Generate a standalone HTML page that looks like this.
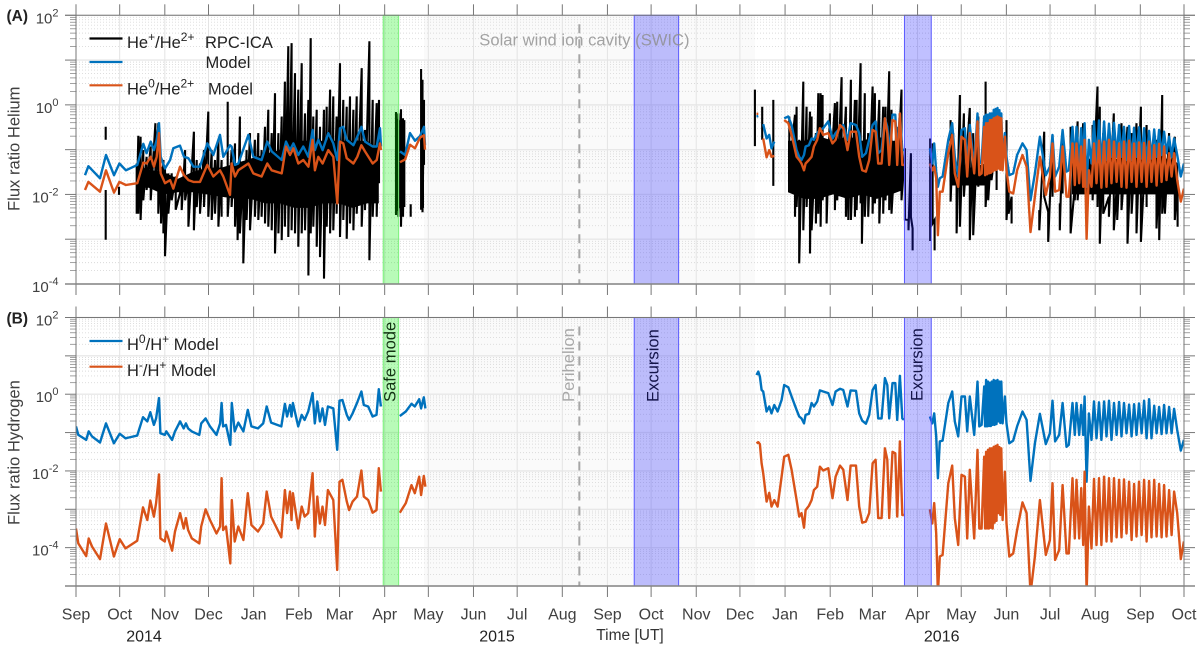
<!DOCTYPE html>
<html lang="en">
<head>
<meta charset="utf-8">
<title>Flux ratios of helium and hydrogen</title>
<style>
html,body{margin:0;padding:0;background:#fff;}
svg{display:block;font-family:"Liberation Sans",sans-serif;}
</style>
</head>
<body>
<svg id="chart" xmlns="http://www.w3.org/2000/svg" width="1200" height="646" viewBox="0 0 1200 646">
  <defs>
    <clipPath id="clipA"><rect x="76" y="15.3" width="1108" height="268.7"/></clipPath>
    <clipPath id="clipB"><rect x="76" y="317.5" width="1108" height="268.5"/></clipPath>
  </defs>
  <g id="layer-grid"></g>
  <g id="layer-series"></g>
  <g id="layer-bands"></g>
  <g id="layer-axes"></g>

  <text x="6.5" y="21" font-size="15.5" font-weight="bold" fill="#222">(A)</text>
  <text x="6.5" y="323.5" font-size="15.5" font-weight="bold" fill="#222">(B)</text>
  <text transform="translate(19.5,211) rotate(-90)" font-size="16.6" fill="#404040">Flux ratio Helium</text>
  <text transform="translate(19.5,525) rotate(-90)" font-size="16.6" fill="#404040">Flux ratio Hydrogen</text>

  <text x="479.3" y="45.5" font-size="16.6" fill="#8c8c8c" fill-opacity="0.8">Solar wind ion cavity (SWIC)</text>
  <text transform="translate(574,402) rotate(-90)" font-size="16.6" fill="#a8a8a8">Perihelion</text>
  <text transform="translate(395.7,402) rotate(-90)" font-size="16.6" fill="#123312">Safe mode</text>
  <text transform="translate(658.5,402) rotate(-90)" font-size="16.6" fill="#14144a">Excursion</text>
  <text transform="translate(922.7,401) rotate(-90)" font-size="16.6" fill="#14144a">Excursion</text>

  <g>
    <line x1="89.5" y1="38.5" x2="122.5" y2="38.5" stroke="#000" stroke-width="2.2"/>
    <line x1="89.5" y1="62" x2="122.5" y2="62" stroke="#0072BD" stroke-width="2.2"/>
    <line x1="89.5" y1="85.3" x2="122.5" y2="85.3" stroke="#D95319" stroke-width="2.2"/>
    <text x="127" y="48" font-size="16.5" fill="#222">He<tspan font-size="12" dy="-7">+</tspan><tspan dy="7">/He</tspan><tspan font-size="12" dy="-7">2+</tspan></text>
    <text x="205" y="48" font-size="16.5" fill="#222">RPC-ICA</text>
    <text x="205.5" y="68" font-size="16.5" fill="#222">Model</text>
    <text x="127" y="94.5" font-size="16.5" fill="#222">He<tspan font-size="12" dy="-7">0</tspan><tspan dy="7">/He</tspan><tspan font-size="12" dy="-7">2+</tspan></text>
    <text x="208" y="94.5" font-size="16.5" fill="#222">Model</text>
  </g>
  <g>
    <line x1="89.5" y1="341" x2="122.5" y2="341" stroke="#0072BD" stroke-width="2.2"/>
    <line x1="89.5" y1="366.7" x2="122.5" y2="366.7" stroke="#D95319" stroke-width="2.2"/>
    <text x="127" y="350" font-size="16.5" fill="#222">H<tspan font-size="12" dy="-7">0</tspan><tspan dy="7">/H</tspan><tspan font-size="12" dy="-7">+</tspan><tspan dy="7"> Model</tspan></text>
    <text x="127" y="376" font-size="16.5" fill="#222">H<tspan font-size="12" dy="-7">-</tspan><tspan dy="7">/H</tspan><tspan font-size="12" dy="-7">+</tspan><tspan dy="7"> Model</tspan></text>
  </g>

  <text x="630" y="640" font-size="15.5" text-anchor="middle" fill="#333">Time [UT]</text>
  <text x="144" y="641.5" font-size="16" text-anchor="middle" fill="#222">2014</text>
  <text x="497" y="641.5" font-size="16" text-anchor="middle" fill="#222">2015</text>
  <text x="941.7" y="641.5" font-size="16" text-anchor="middle" fill="#222">2016</text>
</svg>

<script>
/* x axis: days since 2014-09-01; all flux ratios are log10 of the ratio */
const monthDays = [0,30,61,91,122,153,181,212,242,273,303,334,365,395,426,456,487,518,547,578,608,639,669,700,731,761];
const monthLabels = ["Sep","Oct","Nov","Dec","Jan","Feb","Mar","Apr","May","Jun","Jul","Aug","Sep","Oct","Nov","Dec","Jan","Feb","Mar","Apr","May","Jun","Jul","Aug","Sep","Oct"];
const expTicksA = [2,0,-2,-4];
const expTicksB = [2,0,-2,-4];
const safeModeDays = [211,221.6];
const excursionDays2015 = [383.4,413.9];
const excursionDays2016 = [569,587.4];
const perihelionDay = 345.7;

/* Panel A, first interval */
const heDays1 = [6.2,8.5,16.5,20.6,26.1,29.8,34.3,42.1,46.2,48.5,51.3,53.6,55.4,57,58.2,61.1,64.6,66.8,71.4,74.2,77.2,80.6,85.2,90.2,94.3,98.9,101.2,105.8,106.9,109.2,111.5,118.4,121.8,127.5,131.4,134.4,141.3,144.2,147,149.3,152.7,156.1,159.6,162.5,164.1,166.4,169.4,173.3,176.7,179.5,181.3,183.6,185.9,190.5,193.2,196,198.5,203.8,206.5,208.8,209.5,215,222.5,226,229.4,232.8,236.3,239,239.7];
const heIonModel1 = [-1.57,-1.37,-1.64,-1.12,-1.57,-1.31,-1.46,-1.34,-.87,-1.08,-.82,-1.01,-.78,-.41,-1.16,-1.42,-1.23,-.97,-.91,-1.16,-1.19,-1.38,-1.38,-.86,-1.12,-.67,-1.16,-.90,-.93,-1.34,-1.31,-.67,-1.16,-1.23,-.82,-1.04,-1.23,-.82,-1.01,-.86,-1.12,-.93,-1.16,-.56,-1.01,-.78,-1.01,-.63,-.86,-1.23,-.52,-.49,-.78,-.90,-.71,-.49,-.82,-.93,-.93,-.52,-.93,null,-1.04,-1.12,-.63,-.80,-.70,-.49,-.90];
const heNeutralModel1 = [-1.90,-1.72,-1.94,-1.46,-1.96,-1.72,-1.79,-1.75,-1.29,-1.31,-1.16,-1.38,-1.16,-.63,-1.53,-1.75,-1.68,-1.87,-1.38,-1.57,-1.68,-1.72,-1.72,-1.34,-1.60,-1.46,-1.60,-2.01,-1.31,-1.60,-1.46,-1.31,-1.53,-1.60,-1.31,-1.46,-1.53,-.93,-1.12,-.97,-1.31,-1.23,-1.38,-.78,-1.46,-1.16,-1.31,-1.01,-1.16,-2.20,-.82,-.86,-1.19,-1.31,-1.16,-.90,-1.04,-1.31,-1.23,-.86,-1.01,null,-1.28,-1.22,-.89,-.97,-.73,-.68,-1.0];

/* Panel B, first interval */
const hDays1 = [0,1.6,7,8.7,11,16.5,20.6,26,30,34,42,46,49,51,53.5,55,57,58,61,62,66,68,71.5,74,75.5,77,79.5,84.7,86,89,92,96.5,99,100,101,103,106,107,109,111.5,115,118,120.5,125,128.6,131,134,141,143.5,145,147,148,149,152.6,155,157,159.5,162.5,164,165.7,167.5,169.3,171,173,176.7,179.4,181,183,186,187.6,190,193,196,197.7,200.7,203.7,206.4,208,209.4,215,222.4,226.5,230.4,232.7,235.7,237,238.9,240];
const hAtomModel1 = [-.84,-1.06,-1.19,-.97,-1.10,-1.26,-.76,-1.28,-1.03,-1.15,-1.08,-.60,-.71,-.47,-.80,-.63,-.10,-1.02,-1.06,-.97,-1.19,-.97,-.71,-.89,-.76,-.89,-.97,-1.06,-.76,-.63,-.84,-1.06,-.76,-.23,-.84,-.80,-1.32,-.23,-.97,-.74,-.97,-.41,-.84,-.89,-.76,-.32,-.74,-.84,-.25,-.58,-.28,-.58,-.23,-.84,-.54,-.67,-.45,.03,-.76,-.19,-.71,-.37,-.80,-.32,-.37,-1.45,-.17,-.15,-.54,-.67,-.50,-.23,.07,-.28,-.32,-.58,-.54,.13,-.32,null,-.57,-.45,-.25,-.32,-.13,-.37,-.08,-.37];
const hAnionModel1 = [-3.50,-3.89,-4.22,-3.76,-3.97,-4.30,-3.37,-4.23,-3.78,-4.02,-3.82,-2.95,-3.28,-2.77,-3.19,-2.84,-2.09,-3.76,-3.84,-3.58,-4.08,-3.58,-3.10,-3.50,-3.23,-3.54,-3.76,-3.89,-3.45,-3.00,-3.28,-3.63,-3.45,-2.19,-3.54,-3.45,-4.41,-2.76,-3.84,-3.45,-3.80,-2.58,-3.41,-3.58,-3.37,-2.54,-3.19,-3.73,-2.50,-3.10,-2.54,-3.28,-2.58,-3.50,-2.93,-3.19,-3.10,-2.06,-3.71,-2.67,-3.37,-2.93,-3.41,-2.50,-2.76,-4.58,-2.28,-2.23,-2.80,-3.02,-2.80,-2.67,-1.99,-2.67,-2.76,-3.09,-3.02,-1.93,-2.54,null,-3.09,-2.84,-2.37,-2.58,-2.15,-2.63,-2.13,-2.41];

/* Both panels, second interval (null = data gap) */
const modelDays2 = [467.4,468.6,469.7,470.9,472,474.3,476.1,477.7,479.6,481.9,484.6,486.4,489.2,491.5,494.9,496.7,498.3,500,501.1,503.4,505.2,506.8,509.1,510.9,513.2,516.7,519.6,521.7,524.7,527,529.9,532,535.7,537.9,540,542.5,544.8,547.1,549.2,551,553.3,555.6,557.2,558.5,560.8,562.7,564,565.9,567.5,568.6,
575,
586.5,588.1,589.4,590.8,592,593.3,595.2,599.1,601.8,603.6,605.9,608.2,610.5,612.1,613.9,616.9,619.2,620.4,622,
623.8,624.4,625.1,625.7,626.4,627,627.7,628.3,629,629.6,630.3,630.9,631.6,632.2,632.9,633.5,634.2,634.8,635.5,636.4,
638,639.1,641,643.7,646.4,650.1,652.9,655.6,658.6,662,666.1,668.9,670.7,672.5,675.3,677.6,680.3,681.9,684.4,686,687.2,689,690.4,691.8,692.7,694.1,695.7,
697.5,699.2,700.9,702.6,704.3,706.1,707.8,709.5,711.2,712.9,714.7,716.4,718.1,719.8,721.5,723.3,725,726.7,728.4,730.1,731.9,733.6,735.3,737,738.7,740.5,742.2,743.9,745.6,747.3,749,750.8,752.5,754.2,
756.3,758.8,760.9];
const hAtomModel2 = [.50,.59,.46,.11,.07,-.45,-.32,-.50,-.28,-.45,-.15,.24,.18,-.06,-.41,-.58,-.63,-.76,-.54,-.51,-.23,-.32,-.19,.10,.07,.03,-.28,.07,.14,.11,-.32,.10,.09,-.50,-.69,-.77,-.54,.11,.24,-.63,-.63,.42,.24,-.63,.29,.29,-.67,.48,-.63,-.67,
null,
-.58,-.76,-.50,-1.10,-2.19,-1.23,-1.21,-.23,.07,-.71,-1.10,-.06,-.06,-.97,-.06,-1.06,.33,-.84,-.80,
.20,-.84,.37,-.84,.33,-.83,.30,-.83,.33,-.80,.37,-.80,.35,-.78,.37,-.71,.33,-.75,.33,-.76,
-.06,-.76,-1.28,-1.21,-.84,-.45,-.67,-2.26,-1.28,-.51,-1.30,-1.02,-.17,-1.23,-1.06,-.23,-1.37,-1.32,-.23,-1.06,-.23,-1.06,-.28,-1.06,-.06,-2.28,-.50,
-1.19,-.19,-1.15,-.21,-1.19,-.19,-1.10,-.17,-1.19,-.23,-1.06,-.20,-1.10,-.23,-1.02,-.27,-1.10,-.26,-1.06,-.24,-1.02,-.17,-1.15,-.13,-1.15,-.30,-1.02,-.33,-1.04,-.28,-1.02,-.33,-1.02,-.38,
-.93,-1.47,-1.19];
const hAnionModel2 = [-1.28,-1.25,-1.30,-1.80,-2.06,-2.80,-2.57,-2.93,-2.76,-2.93,-2.15,-1.63,-1.58,-1.97,-2.76,-3.19,-3.10,-3.48,-3.02,-2.91,-2.76,-2.50,-2.41,-1.89,-1.99,-1.93,-2.71,-2.15,-1.86,-1.97,-2.76,-1.86,-1.86,-2.93,-3.35,-3.32,-3.10,-1.80,-1.71,-3.23,-3.23,-1.41,-1.71,-3.23,-1.50,-1.54,-3.19,-1.23,-3.15,-3.15,
null,
-3.00,-3.37,-2.84,-3.63,-5.2,-4.23,-4.19,-2.32,-1.86,-3.23,-3.93,-2.10,-2.15,-3.76,-1.97,-3.76,-1.45,-3.50,-3.50,
-1.63,-3.50,-1.50,-3.50,-1.45,-3.50,-1.41,-3.48,-1.41,-3.50,-1.37,-3.35,-1.35,-3.30,-1.32,-3.10,-1.38,-3.15,-1.41,-3.28,
-2.02,-3.37,-4.23,-4.15,-3.54,-2.82,-3.10,-5.2,-4.23,-2.76,-4.19,-3.80,-2.32,-4.32,-4.06,-2.37,-4.15,-4.15,-2.19,-3.76,-2.23,-3.76,-2.45,-3.93,-2.02,-5.2,-2.93,
-4.02,-2.21,-3.93,-2.19,-3.93,-2.15,-3.84,-2.19,-3.84,-2.19,-3.73,-2.23,-3.73,-2.22,-3.63,-2.28,-3.80,-2.34,-3.71,-2.28,-3.67,-2.23,-3.84,-2.26,-3.73,-2.23,-3.71,-2.34,-3.73,-2.37,-3.71,-2.50,-3.67,-2.54,
-3.10,-4.30,-3.84];
const heIonModel2 = [-.26,-.25,null,null,-.43,-.75,-.67,-.97,-.82,null,null,-.30,-.26,-.45,-1.01,-1.16,-1.23,-1.12,-.93,-.90,-.75,-.78,-.63,-.56,-.52,-.37,-.75,-.63,-.52,-.45,-.78,-.41,-.45,-.63,-1.16,-1.08,-.78,-.45,-.37,-1.08,-1.01,-.30,-.49,-1.08,-.22,-.22,-1.12,-.19,-1.01,-1.01,
null,
-.97,-1.31,-.86,-1.49,-1.83,-1.64,-1.60,-.78,-.41,-1.16,-1.60,-.56,-.52,-1.38,-.45,-1.38,-.19,-1.31,-1.27,
-.26,-1.31,-.22,-1.28,-.22,-1.23,-.19,-1.23,-.19,-1.23,-.11,-1.19,-.09,-1.19,-.07,-1.16,-.12,-1.20,-.19,-1.23,
-.63,-1.16,-1.57,-1.53,-1.12,-.86,-1.01,-2.13,-1.53,-.71,-1.57,-1.38,-.67,-1.60,-1.38,-.56,-1.49,-1.46,-.49,-1.34,-.49,-1.31,-.52,-1.34,-.41,-1.83,-.78,
-1.31,-.37,-1.34,-.35,-1.34,-.37,-1.23,-.42,-1.16,-.40,-1.16,-.45,-1.16,-.49,-1.23,-.47,-1.23,-.51,-1.16,-.50,-1.20,-.52,-1.31,-.58,-1.20,-.55,-1.16,-.56,-1.12,-.60,-1.08,-.71,-1.16,-.75,
-1.12,-1.60,-1.31];
const heNeutralModel2 = [-.20,-.20,null,null,-.75,-1.17,-1.01,-1.16,-1.14,null,null,-.34,-.41,-.67,-1.16,-1.23,-1.31,-1.46,-1.31,-1.23,-1.16,-.93,-.78,-.52,-.67,-.63,-.86,-.78,-.45,-.52,-1.01,-.60,-.60,-1.16,-1.46,-1.49,-1.23,-.56,-.60,-1.31,-1.31,-.30,-.63,-1.34,-.34,-.37,-1.34,-.19,-1.34,-1.34,
null,
-1.31,-1.46,-1.38,-1.64,-2.91,-1.94,-1.94,-1.08,-.67,-1.53,-1.83,-.71,-.78,-1.60,-.63,-1.53,-.37,-1.57,-1.53,
-.49,-1.57,-.41,-1.55,-.41,-1.53,-.34,-1.52,-.34,-1.49,-.30,-1.46,-.28,-1.45,-.26,-1.42,-.28,-1.45,-.30,-1.46,
-.71,-1.46,-1.94,-1.98,-1.46,-1.12,-1.38,-2.84,-2.05,-1.16,-2.01,-1.60,-.86,-1.94,-1.90,-.93,-2.05,-2.05,-.86,-1.79,-.86,-1.75,-.93,-1.83,-.78,-2.99,-1.46,
-1.83,-.86,-1.75,-.80,-1.85,-.82,-1.83,-.78,-1.75,-.82,-1.72,-.86,-1.83,-.82,-1.85,-.80,-1.72,-.86,-1.83,-.84,-1.72,-.85,-1.83,-.82,-1.72,-.90,-1.80,-.87,-1.72,-.93,-1.68,-1.08,-1.60,-1.08,
-1.68,-2.16,-1.87];

/* RPC-ICA measurements: day, local high and local low */
const ionDays = [20.4,20.4,29.5,41.7,42.8,44.4,46.2,48.5,51.3,54.5,56.5,58.4,60,61.1,63.4,65.7,68.5,72.6,74.9,77.2,81,82.9,85.2,87.9,90.9,93.2,95.5,97.8,100,104.2,106.9,109.2,111,112.6,114.9,117.2,119.5,122.9,125.2,127.5,129.8,132.1,134.4,136.7,139,141.3,143.5,145.8,148.1,150.4,152.7,155,157.3,159.6,161.2,163,165.3,167.6,170.3,172.2,174.5,176.7,179,181.3,183.6,185.9,188.2,190.5,192.8,196.2,198.5,201.5,203.8,206.5,208.1,
219.8,221.4,223.2,224.6,225.5,229.9,237,238,239,
466.3,471.3,478.9,489.9,493.8,494.9,496.7,499.5,501.8,504.1,505.2,508.2,509.8,511.4,512.8,515.5,517.8,521.2,522.8,525.8,528.8,530.4,532.2,535,536.1,538.9,539.8,541.8,544.1,547.1,548.7,551.7,554.4,556,558.5,560.1,563.6,567,569.3,571.8,573.4,574.6,
586.7,588.3,589.7,600.7,602.5,604.8,607.1,609.8,613.9,616.2,619.7,624.7,626.5,628.8,632.3,639.1,640.5,642.6,661.6,665,667.7,670.7,675.7,677.6,683.1,686,687.9,691.8,698.2,701.6,703.2,705.5,709.4,712.8,715.1,718.1,722.2,725,728.4,731.4,735.3,742.1,744,746,747.9,750.8,754.7,756.6];
const ionHigh = [-.49,-1.90,-1.83,-1.31,-.69,-.71,-1.01,-1.16,-.93,-.41,-.41,-1.38,-1.23,-1.38,-1.53,-1.53,-1.60,-1.83,-1.01,-1.68,-.60,-1.23,-1.31,-1.01,-.15,-1.01,-1.23,-.78,-1.23,.07,-1.01,-.86,-1.38,-.26,-1.38,-1.01,-.63,-.78,-.63,-1.01,-.49,-.11,-.63,.26,-.63,-.26,.52,1.31,1.38,.71,.34,.93,-.19,.11,1.49,-.26,-.11,-.49,-.11,-.04,.34,.19,-.26,.93,.11,-.04,.19,-.11,.19,.82,-.56,1.42,.11,.04,.11,
-.16,-.19,-.10,-.3,-.34,-2.22,.80,.56,.11,
.34,-.04,.11,-.26,-.22,-.04,-.78,.52,-.04,-.15,-.26,-.63,.26,.26,.22,-1.01,-.19,.04,.07,.62,-.04,-.78,.56,.11,.11,.93,-1.38,.26,-.63,.41,.26,.11,-.04,-.04,.75,-.11,-.49,.34,-.97,-2.57,-1.08,-2.76,
-.75,-.86,-2.57,-.34,-.63,-1.38,.22,-.19,-.07,-.63,-.26,.52,-1.23,-.93,-.78,-.34,-1.83,-2.05,-2.35,-.60,-2.39,-.67,-2.20,-.60,-.49,-1.83,-.37,-.41,-.45,.41,-.04,-.63,-2.05,-.19,-1.68,-.41,-.49,-.63,-.41,-.04,-.45,-.78,-1.38,.22,-1.75,-.63,-.71,-1.68];
const ionLow = [-.78,-3.01,-2.01,-2.43,-2.43,-2.57,-2.13,-1.90,-2.13,-1.83,-2.43,-2.65,-2.87,-3.38,-2.43,-2.13,-2.34,-2.35,-2.13,-2.72,-2.80,-2.28,-2.43,-2.28,-2.50,-2.57,-2.43,-2.72,-2.50,-2.50,-2.28,-2.72,-3.02,-2.87,-3.54,-2.57,-2.80,-2.50,-2.57,-2.50,-2.65,-2.72,-2.80,-3.32,-2.87,-3.02,-2.72,-2.95,-2.80,-2.87,-3.17,-2.87,-2.80,-3.81,-2.87,-2.72,-3.17,-3.40,-3.88,-2.72,-2.87,-2.80,-2.43,-2.95,-2.57,-2.99,-2.65,-2.80,-2.43,-2.72,-2.35,-3.47,-2.50,-2.50,-1.75,
-2.46,-2.50,-2.72,-2.5,-2.28,-2.50,-2.34,-2.4,-1.34,
-.92,-.78,-1.81,-1.46,-2.5,-2.28,-3.54,-2.80,-2.28,-3.32,-2.80,-2.65,-2.43,-2.72,-2.13,-2.65,-1.90,-2.35,-2.13,-1.90,-2.50,-2.57,-2.57,-2.50,-2.35,-2.20,-3.10,-2.50,-2.50,-2.43,-2.20,-2.65,-2.43,-2.13,-2.35,-2.43,-1.94,-2.13,-2.56,-2.80,-2.50,-3.25,
-3.04,-2.65,-3.25,-2.16,-1.53,-2.87,-2.72,-2.05,-3.02,-2.91,-1.83,-2.28,-2.13,-1.68,-1.90,-2.57,-2.43,-2.65,-2.80,-2.05,-3.06,-2.05,-2.80,-1.98,-2.87,-2.13,-2.13,-1.83,-2.13,-2.28,-3.10,-2.43,-2.50,-2.80,-2.57,-2.35,-3.10,-2.43,-2.87,-3.06,-2.28,-2.76,-3.02,-2.43,-2.43,-1.83,-2.57,-2.72];

/* RPC-ICA solid core where the high-rate samples merge into a dense band */
const ionCoreDays = [42,50,60,70,80,90,100,110,120,130,140,150,160,170,180,190,200,208,
219.8,225.5,
237,239,
489,500,510,520,530,540,550,560,568,
600,607,615,625,640,
684,692,700,710,720,730,740,750,757];
const ionCoreHigh = [-1.35,-1.45,-1.5,-1.65,-1.5,-1.4,-1.4,-1.3,-1.2,-1.1,-1.0,-.8,-.8,-.8,-.8,-.8,-.8,-1.0,
-.3,-.4,
.0,.0,
-.8,-.8,-.7,-.8,-.7,-.8,-.7,-.8,-.8,
-1.4,-1.4,-1.4,-1.3,-1.4,
-1.2,-1.2,-1.2,-1.2,-1.2,-1.2,-1.2,-1.2,-1.3];
const ionCoreLow = [-1.85,-1.85,-2.0,-1.95,-1.95,-2.0,-2.05,-2.1,-2.1,-2.2,-2.2,-2.3,-2.3,-2.2,-2.2,-2.3,-2.2,-2.2,
-2.4,-2.2,
-2.3,-2.3,
-1.95,-2.1,-2.1,-2.0,-2.1,-2.0,-2.1,-2.0,-1.9,
-1.8,-1.8,-1.8,-1.8,-1.8,
-2.0,-2.0,-2.0,-2.0,-2.0,-2.0,-2.0,-2.0,-2.0];

/* Axis functions */
const X0 = 76, X1 = 1184, DAY_SPAN = 761;
function xDay(d){ return X0 + d * (X1 - X0) / DAY_SPAN; }
const panelA = {top:15.3, bottom:284, maxExp:2, minExp:-4, clip:'clipA'};
const panelB = {top:317.5, bottom:586, maxExp:2, minExp:-5, clip:'clipB'};
function yLog(panel, e){ return panel.top + (panel.maxExp - e) * (panel.bottom - panel.top) / (panel.maxExp - panel.minExp); }

const NS = 'http://www.w3.org/2000/svg';
function make(tag, attrs, parent){
  const node = document.createElementNS(NS, tag);
  for (const k in attrs) node.setAttribute(k, attrs[k]);
  parent.appendChild(node);
  return node;
}
const gridLayer = document.getElementById('layer-grid');
const seriesLayer = document.getElementById('layer-series');
const bandLayer = document.getElementById('layer-bands');
const axesLayer = document.getElementById('layer-axes');

function seriesPath(days, vals, yf){
  let d = '', pen = false;
  for (let i = 0; i < days.length; i++){
    if (vals[i] === null){ pen = false; continue; }
    d += (pen ? 'L' : 'M') + xDay(days[i]).toFixed(1) + ' ' + yf(vals[i]).toFixed(1);
    pen = true;
  }
  return d;
}
function ionPath(panel){
  let d = '';
  for (let i = 0; i < ionDays.length; i++){
    const x = xDay(ionDays[i]).toFixed(1);
    const joined = i > 0 && ionDays[i] > ionDays[i-1] && ionDays[i] - ionDays[i-1] <= 4.2;
    d += (joined ? 'L' : 'M') + x + ' ' + yLog(panel, ionHigh[i]).toFixed(1);
    d += 'L' + x + ' ' + yLog(panel, ionLow[i]).toFixed(1);
  }
  return d;
}
function ionCorePath(panel){
  let d = '', start = 0;
  for (let i = 1; i <= ionCoreDays.length; i++){
    if (i === ionCoreDays.length || ionCoreDays[i] - ionCoreDays[i-1] > 11.2){
      let run = '';
      for (let j = start; j < i; j++){
        run += (j === start ? 'M' : 'L') + xDay(ionCoreDays[j]).toFixed(1) + ' ' + yLog(panel, ionCoreHigh[j]).toFixed(1);
      }
      for (let j = i - 1; j >= start; j--){
        run += 'L' + xDay(ionCoreDays[j]).toFixed(1) + ' ' + yLog(panel, ionCoreLow[j]).toFixed(1);
      }
      d += run + 'Z';
      start = i;
    }
  }
  return d;
}

function drawPanel(panel, tag, expTicks){
  const g = make('g', {}, gridLayer);
  
  

  const shade = make('rect', {x:424, y:panel.top, width:331, height:panel.bottom-panel.top, fill:'#fafafa'}, g);
  
  

  for (let e = panel.minExp; e < panel.maxExp; e++){
    for (let m = 2; m <= 9; m++){
      const y = yLog(panel, e + Math.log10(m));
      const dot = make('line', {x1:X0, x2:X1, y1:y, y2:y, stroke:'#dadada', 'stroke-width':0.9, 'stroke-dasharray':'1 2'}, g);
      
      
      const t1 = make('line', {x1:70, x2:X0, y1:y, y2:y, stroke:'#8a8a8a', 'stroke-width':0.8}, axesLayer);
      
      
      const t2 = make('line', {x1:X1, x2:1190, y1:y, y2:y, stroke:'#8a8a8a', 'stroke-width':0.8}, axesLayer);
      
      
    }
  }
  for (let e = panel.minExp; e <= panel.maxExp; e++){
    const y = yLog(panel, e);
    const gl = make('line', {x1:X0, x2:X1, y1:y, y2:y, stroke:'#e8e8e8', 'stroke-width':1.4}, g);
    
    
    const t1 = make('line', {x1:65, x2:X0, y1:y, y2:y, stroke:'#777', 'stroke-width':1}, axesLayer);
    
    
    const t2 = make('line', {x1:X1, x2:1195, y1:y, y2:y, stroke:'#777', 'stroke-width':1}, axesLayer);
    
    
  }
  monthDays.forEach(function(day){
    const x = xDay(day);
    const gl = make('line', {x1:x, x2:x, y1:panel.top, y2:panel.bottom, stroke:'#e4e4e4', 'stroke-width':1}, g);
    
    
    const up = make('line', {x1:x, x2:x, y1:panel.top-11, y2:panel.top, stroke:'#777', 'stroke-width':1}, axesLayer);
    
    
    const down = make('line', {x1:x, x2:x, y1:panel.bottom, y2:panel.bottom+11, stroke:'#777', 'stroke-width':1}, axesLayer);
    
    
  });
  expTicks.forEach(function(e){
    const y = yLog(panel, e);
    const t = make('text', {x:58.5, y:y+8, 'font-size':15, 'text-anchor':'end', fill:'#404040'}, axesLayer);
    
    
    const base = make('tspan', {}, t);
    base.textContent = '10';
    const sup = make('tspan', {'font-size':11, dy:-7}, t);
    sup.textContent = String(e);
  });
  const frame = make('path', {d:'M65 '+panel.top+'H1195M'+X1+' '+panel.top+'V'+panel.bottom+'M'+X0+' '+panel.top+'V'+panel.bottom, fill:'none', stroke:'#777', 'stroke-width':1}, axesLayer);
  
  
  const base = make('line', {x1:65, x2:1195, y1:panel.bottom, y2:panel.bottom, stroke:'#858585', 'stroke-width':1.5}, axesLayer);
  
  

  const dash = make('line', {x1:xDay(perihelionDay), x2:xDay(perihelionDay), y1:panel.top+9, y2:panel.bottom, stroke:'#a6a6a6', 'stroke-width':2, 'stroke-dasharray':'9 6'}, g);
  
  
}

function drawBand(panel, tag, range, fill, stroke, name){
  const r = make('rect', {x:xDay(range[0]), y:panel.top, width:xDay(range[1])-xDay(range[0]), height:panel.bottom-panel.top, fill:fill, stroke:stroke, 'stroke-width':1}, bandLayer);
  
  
}

function drawLine(panel, tag, days, vals, color, name){
  const yf = function(v){ return yLog(panel, v); };
  const p = make('path', {d:seriesPath(days, vals, yf), fill:'none', stroke:color, 'stroke-width':2.4, 'stroke-linejoin':'round', 'clip-path':'url(#'+panel.clip+')'}, seriesLayer);
  
  
}

drawPanel(panelA, 'a', expTicksA);
drawPanel(panelB, 'b', expTicksB);

const ionCore = make('path', {d:ionCorePath(panelA), fill:'#000', stroke:'none', 'clip-path':'url(#clipA)'}, seriesLayer);



const ionLine = make('path', {d:ionPath(panelA), fill:'none', stroke:'#000', 'stroke-width':2.1, 'stroke-linejoin':'miter', 'clip-path':'url(#clipA)'}, seriesLayer);



drawLine(panelA, 'a', heDays1, heIonModel1, '#0072BD', 'he-ion-model-series-2014');
drawLine(panelA, 'a', modelDays2, heIonModel2, '#0072BD', 'he-ion-model-series-2016');
drawLine(panelA, 'a', heDays1, heNeutralModel1, '#D95319', 'he-neutral-model-series-2014');
drawLine(panelA, 'a', modelDays2, heNeutralModel2, '#D95319', 'he-neutral-model-series-2016');
drawLine(panelB, 'b', hDays1, hAtomModel1, '#0072BD', 'h-atom-model-series-2014');
drawLine(panelB, 'b', modelDays2, hAtomModel2, '#0072BD', 'h-atom-model-series-2016');
drawLine(panelB, 'b', hDays1, hAnionModel1, '#D95319', 'h-anion-model-series-2014');
drawLine(panelB, 'b', modelDays2, hAnionModel2, '#D95319', 'h-anion-model-series-2016');

[[panelA,'a'],[panelB,'b']].forEach(function(pair){
  drawBand(pair[0], pair[1], safeModeDays, 'rgba(0,240,0,0.28)', '#7cf07c', 'safe-mode');
  drawBand(pair[0], pair[1], excursionDays2015, 'rgba(30,30,255,0.28)', '#5a5aff', 'excursion-2015');
  drawBand(pair[0], pair[1], excursionDays2016, 'rgba(30,30,255,0.28)', '#5a5aff', 'excursion-2016');
});

monthLabels.forEach(function(label, i){
  const t = make('text', {x:xDay(monthDays[i]), y:619.5, 'font-size':16, 'text-anchor':'middle', fill:'#404040'}, axesLayer);
  
  
  t.textContent = label;
});
</script>
</body>
</html>
